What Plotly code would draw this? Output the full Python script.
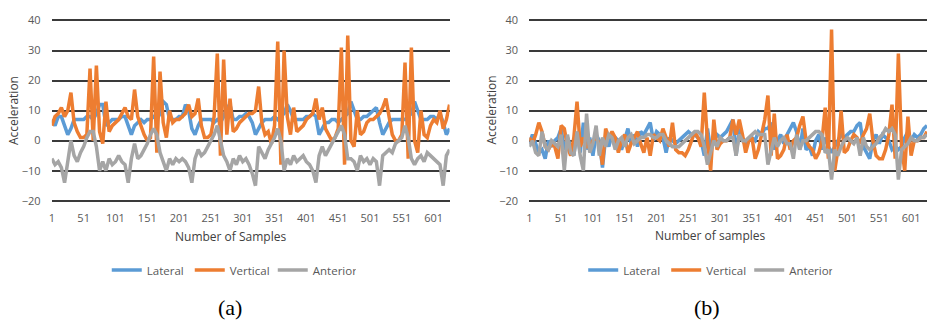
import plotly.graph_objects as go

# sample index (every 5th sample)
samples = list(range(1, 627, 5))

# ---------------- chart (a) ----------------
lateral_a = [
    7, 5, 8, 8, 5, 2, 4, 7, 7, 7,
    7, 8, 8, 7, 9, 12, 12, 5, 6, 7,
    7, 7, 8, 8, 5, 2, 5, 6, 7, 6,
    7, 7, 8, 7, 9, 13, 12, 7, 7, 7,
    8, 8, 12, 10, 4, 2, 5, 7, 7, 7,
    7, 6, 7, 6, 8, 11, 12, 7, 7, 8,
    8, 9, 8, 6, 2, 4, 6, 7, 7, 7,
    8, 7, 8, 9, 12, 10, 7, 7, 7, 7,
    8, 8, 9, 8, 2, 4, 6, 6, 7, 7,
    6, 7, 8, 9, 13, 10, 7, 7, 8, 8,
    9, 10, 11, 6, 2, 4, 6, 7, 7, 7,
    7, 7, 8, 9, 13, 10, 7, 7, 7, 8,
    8, 7, 9, 6, 2, 4,
]
vertical_a = [
    5, 8, 9, 11, 8, 10, 16, 6, 3, 1,
    1, 2, 24, 0, 25, 3, -1, 13, 3, 5,
    6, 7, 9, 11, 8, 7, 17, 8, 5, 2,
    0, 1, 28, -4, 23, 6, 1, 10, 6, 7,
    7, 8, 9, 12, 8, 9, 14, 5, 1, 1,
    2, 8, 29, -5, 27, 2, 14, 3, 4, 6,
    7, 8, 9, 9, 10, 18, 6, 2, 3, -1,
    5, 33, -8, 30, 8, 2, 11, 3, 4, 5,
    7, 8, 9, 14, 7, 11, 4, 2, 0, 1,
    4, 31, -8, 35, 0, -2, 10, 2, 3, 6,
    7, 7, 8, 9, 11, 14, 8, 2, 0, 0,
    2, 26, -6, 31, 0, -4, 10, 2, 1, 5,
    7, 6, 10, 4, 7, 12,
]
anterior_a = [
    -6, -8, -7, -9, -14, -7, 0, -5, -7, -4,
    -2, 1, 3, 3, -2, -10, -7, -10, -6, -8,
    -7, -5, -7, -8, -14, -6, -1, -6, -5, -3,
    -1, 2, 4, 2, -4, -7, -10, -6, -8, -6,
    -7, -6, -7, -9, -14, -6, -3, -5, -4, -2,
    0, 2, 5, 0, -5, -7, -10, -6, -8, -5,
    -7, -6, -8, -11, -15, -2, -4, -6, -3, -1,
    1, 4, 0, -10, -6, -8, -5, -7, -6, -5,
    -7, -8, -10, -14, -5, -2, -5, -3, -1, 1,
    3, 5, 2, -6, -6, -7, -10, -5, -7, -6,
    -8, -6, -7, -15, -5, -4, -3, -4, -1, 0,
    1, 5, 1, -6, -8, -6, -5, -7, -4, -5,
    -6, -7, -8, -15, -5, -3,
]

# ---------------- chart (b) ----------------
lateral_b = [
    -1, 2, -1, -4, -3, -6, 0, -2, 0, 1,
    4, -3, 1, -2, -5, 3, -4, 6, -3, 1,
    -5, 2, 0, -9, 1, -2, 2, 1, 0, -3,
    1, 4, -1, 2, -2, 3, 2, 4, 6, 0,
    3, 2, 1, -4, 1, 0, -1, 0, 1, 2,
    3, 2, 2, 1, 0, -5, 4, -3, 0, 2,
    1, 2, 3, 5, 7, -5, 4, 1, -2, 0,
    1, 0, 3, 2, 4, 4, 6, -3, 0, 2,
    -1, 2, 4, 6, 3, -3, 4, -3, -2, -5,
    0, 2, -3, 1, -2, -4, -2, 0, 2, 1,
    2, 3, 3, 5, 6, -2, -4, -6, 0, 2,
    -1, 2, 1, 0, -3, -2, -3, -2, 1, 3,
    0, 2, 1, 2, 4, 5,
]
vertical_b = [
    1, -1, 2, 6, 3, -2, -3, -1, -2, -6,
    5, 4, -2, -5, 1, 13, -2, 1, -2, -2,
    0, 1, -1, -8, 4, 1, 3, 1, -4, 0,
    2, -4, -1, 1, 3, -1, -4, 1, -5, 2,
    1, 0, 4, 1, -2, 6, -3, -4, -4, -5,
    -3, 0, 3, 1, -2, 16, 0, -10, 7, -3,
    -1, 0, 0, 1, 7, 2, 7, 2, -4, 0,
    1, -6, -3, 2, 7, 15, -5, 9, -6, -5,
    -3, 2, -3, 0, 1, 5, 8, 0, -2, -3,
    -6, -4, 0, 11, -6, 37, -10, -3, 10, -4,
    -3, 0, 2, 1, -1, 2, 4, 9, 0, -5,
    -6, -6, -3, 2, 12, -6, 29, -2, -10, 8,
    -5, 0, 0, 1, 1, 3,
]
anterior_b = [
    -2, 0, -4, -5, 3, -2, -3, 0, -1, -2,
    2, -10, 2, -4, -5, 3, -5, -10, 9, -4,
    -1, 5, -5, 1, -2, 2, 1, -3, 0, 1,
    -2, 1, 2, -1, 0, 1, 1, 2, 2, 1,
    1, 2, 2, 0, -1, -2, -2, -2, -1, 0,
    1, 2, 3, 3, 2, -2, -8, -4, 0, -2,
    1, 0, 0, 1, 1, -5, 2, 0, 0, 1,
    2, 3, 2, 2, 2, -8, -4, 1, -2, 0,
    1, -1, -1, -6, 2, -3, 0, 0, 1, 2,
    3, 3, 2, -4, -3, -13, -3, -5, -2, 0,
    1, 0, -1, 1, -5, 1, -2, -3, -2, -1,
    1, 2, 4, 3, 4, 2, -13, -3, -2, -1,
    1, 0, 0, 1, 1, 2,
]

series_names = ["Lateral", "Vertical", "Anterior"]
colors = ["#5B9BD5", "#ED7D31", "#A5A5A5"]
x_ticks = [1, 51, 101, 151, 201, 251, 301, 351, 401, 451, 501, 551, 601]
y_ticks = [-20, -10, 0, 10, 20, 30, 40]

fig = go.Figure()
for name, col, ys in zip(series_names, colors, [lateral_a, vertical_a, anterior_a]):
    fig.add_trace(go.Scatter(x=samples, y=ys, mode="lines", name=name,
                             line=dict(color=col, width=3.5),
                             xaxis="x", yaxis="y", legend="legend"))
for name, col, ys in zip(series_names, colors, [lateral_b, vertical_b, anterior_b]):
    fig.add_trace(go.Scatter(x=samples, y=ys, mode="lines", name=name,
                             line=dict(color=col, width=3.5),
                             xaxis="x2", yaxis="y2", legend="legend2"))

tick_font = dict(family="Open Sans, Liberation Sans, sans-serif", size=11, color="#595959")
# plot area: +40 at y=14px, -20 at y=201px; padding so edge gridlines are not clipped
pad = 0.5
ppu = (201 - 14) / 60.0
ydom = [1 - (201 + pad * ppu) / 330, 1 - (14 - pad * ppu) / 330]

def xax(domain, anchor):
    return dict(domain=domain, anchor=anchor, range=[1, 626], tickvals=x_ticks,
                ticktext=[str(v) for v in x_ticks], showgrid=False, zeroline=False,
                showline=False, ticks="outside", ticklen=6,
                tickcolor="rgba(0,0,0,0)", tickfont=tick_font)

def yax(anchor):
    return dict(domain=ydom, anchor=anchor, range=[-20 - pad, 40 + pad], tickvals=y_ticks,
                showgrid=True, gridcolor="#3a3a3a", gridwidth=2, zeroline=False,
                showline=False, ticks="outside", ticklen=8,
                tickcolor="rgba(0,0,0,0)", tickfont=tick_font)

title_font = dict(family="Open Sans, Liberation Sans, sans-serif", size=12, color="#404040")
leg_font = dict(family="Open Sans, Liberation Sans, sans-serif", size=11.5, color="#595959")

fig.update_layout(
    width=929, height=330,
    margin=dict(l=0, r=0, t=0, b=0),
    paper_bgcolor="white", plot_bgcolor="white",
    xaxis=xax([49 / 929, 448 / 929], "y"),
    yaxis=yax("x"),
    xaxis2=xax([528 / 929, 927 / 929], "y2"),
    yaxis2=yax("x2"),
    legend=dict(orientation="h", x=229 / 929, xanchor="center", y=1 - 273 / 330,
                yanchor="middle", font=leg_font, itemwidth=30, entrywidth=38,
                bgcolor="rgba(0,0,0,0)"),
    legend2=dict(orientation="h", x=707 / 929, xanchor="center", y=1 - 273 / 330,
                 yanchor="middle", font=leg_font, itemwidth=30, entrywidth=38,
                 bgcolor="rgba(0,0,0,0)"),
    annotations=[
        dict(text="Acceleration", x=10 / 929, y=1 - 107 / 330, xref="paper", yref="paper",
             textangle=-90, showarrow=False, font=title_font, xanchor="center", yanchor="middle"),
        dict(text="Acceleration", x=490 / 929, y=1 - 107 / 330, xref="paper", yref="paper",
             textangle=-90, showarrow=False, font=title_font, xanchor="center", yanchor="middle"),
        dict(text="Number of Samples", x=228 / 929, y=1 - 238 / 330, xref="paper", yref="paper",
             showarrow=False, font=title_font, xanchor="center", yanchor="middle"),
        dict(text="Number of samples", x=710 / 929, y=1 - 237 / 330, xref="paper", yref="paper",
             showarrow=False, font=title_font, xanchor="center", yanchor="middle"),
        dict(text="(a)", x=228 / 929, y=1 - 312 / 330, xref="paper", yref="paper",
             showarrow=False, xanchor="center", yanchor="middle",
             font=dict(family="Liberation Serif, Times New Roman, serif", size=22, color="black")),
        dict(text="(b)", x=706 / 929, y=1 - 312 / 330, xref="paper", yref="paper",
             showarrow=False, xanchor="center", yanchor="middle",
             font=dict(family="Liberation Serif, Times New Roman, serif", size=22, color="black")),
    ],
)

fig.write_html("out.html")
